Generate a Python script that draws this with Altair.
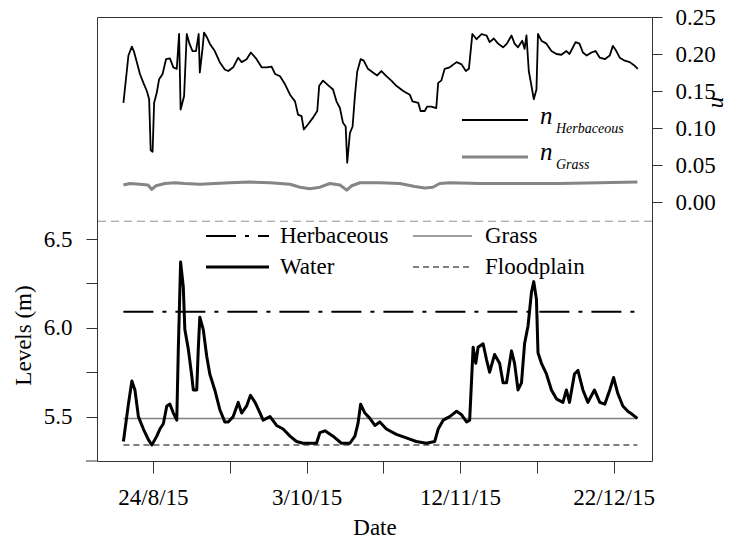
import altair as alt
import pandas as pd

# ---------------- data ----------------
base_date = "2015-08-24"  # day offsets below are relative to this date

water_day = [-7.7, -6.4, -5.5, -4.7, -3.8, -2.5, -1.2, -0.3, 1.0, 1.8, 2.7, 3.6, 4.4, 5.3, 6.2,
             6.6, 7.2, 7.9, 8.3, 9.2, 10.1, 10.5, 11.4, 11.8, 12.2, 13.1, 14.0, 14.8, 16.1, 17.4,
             18.7, 19.6, 20.9, 22.2, 23.1, 24.4, 25.4, 26.6, 27.9, 28.7, 30.5, 32.2, 33.9, 35.7,
             37.4, 39.1, 42.6, 43.5, 44.8, 46.9, 49.1, 51.3, 52.6, 53.4, 54.1, 55.2, 56.5, 57.8,
             59.1, 60.8, 63.4, 66.0, 68.6, 71.2, 73.4, 74.3, 75.6, 77.3, 79.1, 80.4, 81.7, 82.5,
             83.4, 84.1, 84.7, 86.0, 86.9, 87.7, 89.0, 90.3, 91.2, 92.1, 93.4, 94.2, 95.1, 96.0,
             96.8, 97.7, 98.6, 99.2, 99.9, 100.3, 101.2, 102.5, 103.8, 105.1, 106.8, 107.7, 108.5,
             109.8, 110.7, 112.0, 113.3, 115.0, 116.4, 117.7, 119.0, 120.0, 121.1, 122.4, 123.7,
             125.0, 126.2]
water_level = [5.36, 5.57, 5.70, 5.65, 5.50, 5.43, 5.37, 5.34, 5.39, 5.43, 5.46, 5.56, 5.57, 5.52, 5.48,
               5.88, 6.37, 6.23, 5.99, 5.88, 5.73, 5.65, 5.65, 5.88, 6.06, 5.99, 5.84, 5.74, 5.65, 5.54,
               5.47, 5.47, 5.50, 5.58, 5.52, 5.56, 5.62, 5.58, 5.52, 5.48, 5.50, 5.45, 5.43, 5.39,
               5.36, 5.35, 5.35, 5.41, 5.42, 5.39, 5.35, 5.35, 5.39, 5.46, 5.57, 5.52, 5.49, 5.45,
               5.47, 5.43, 5.40, 5.38, 5.36, 5.35, 5.36, 5.43, 5.48, 5.50, 5.53, 5.51, 5.47, 5.48,
               5.89, 5.80, 5.89, 5.91, 5.82, 5.75, 5.85, 5.80, 5.69, 5.69, 5.87, 5.80, 5.65, 5.69,
               5.91, 6.01, 6.20, 6.26, 6.16, 5.86, 5.80, 5.74, 5.65, 5.60, 5.58, 5.65, 5.58,
               5.74, 5.76, 5.65, 5.58, 5.65, 5.58, 5.57, 5.65, 5.72, 5.63, 5.56, 5.53,
               5.51, 5.49]

herb_day = [-7.7, -6.9, -6.4, -5.5, -5.0, -4.2, -3.4, -2.5, -1.6, -1.0, -0.6, -0.1, 0.3, 1.0, 1.6,
            2.5, 3.4, 4.4, 5.3, 6.2, 6.8, 7.2, 8.1, 8.8, 9.5, 10.3, 11.2, 11.9, 12.2, 12.9, 13.3,
            14.0, 14.8, 16.1, 17.4, 18.7, 19.6, 20.9, 22.2, 23.1, 24.4, 25.5, 27.0, 28.3, 29.6,
            30.9, 31.8, 33.1, 34.4, 35.7, 37.0, 37.8, 38.7, 39.3, 40.4, 41.7, 42.8, 43.3, 44.3,
            45.6, 46.9, 47.8, 48.7, 49.5, 50.2, 50.6, 51.3, 52.0, 52.6, 53.2, 54.1, 54.9, 56.0,
            57.3, 58.4, 59.5, 60.8, 62.1, 63.4, 65.2, 66.9, 67.6, 69.1, 69.7, 70.8, 71.4, 72.5,
            73.8, 74.3, 75.1, 76.0, 77.3, 79.1, 80.4, 81.5, 82.3, 83.2, 84.3, 85.6, 86.9, 87.7,
            88.8, 89.9, 91.2, 92.2, 93.4, 94.2, 95.1, 96.2, 96.8, 97.3, 97.9, 98.6, 99.2, 99.9,
            100.3, 101.2, 102.5, 103.8, 105.1, 106.4, 107.7, 108.5, 110.1, 111.1, 112.0, 113.0,
            114.2, 115.3, 116.4, 117.7, 119.0, 119.8, 120.7, 121.6, 122.9, 124.2, 125.5, 126.3]
herb_n = [0.134, 0.173, 0.198, 0.210, 0.204, 0.189, 0.173, 0.161, 0.150, 0.139, 0.070, 0.068, 0.134,
          0.148, 0.166, 0.173, 0.193, 0.194, 0.182, 0.180, 0.227, 0.125, 0.143, 0.227, 0.214, 0.204,
          0.204, 0.227, 0.175, 0.207, 0.229, 0.223, 0.214, 0.204, 0.189, 0.179, 0.177, 0.182, 0.195,
          0.189, 0.193, 0.202, 0.193, 0.182, 0.182, 0.183, 0.173, 0.170, 0.159, 0.145, 0.136, 0.118,
          0.116, 0.098, 0.105, 0.114, 0.123, 0.157, 0.164, 0.158, 0.152, 0.136, 0.127, 0.107, 0.102,
          0.053, 0.093, 0.102, 0.143, 0.176, 0.193, 0.191, 0.180, 0.175, 0.171, 0.177, 0.170, 0.164,
          0.157, 0.150, 0.145, 0.136, 0.134, 0.123, 0.123, 0.129, 0.129, 0.127, 0.161, 0.164, 0.180,
          0.182, 0.189, 0.186, 0.177, 0.180, 0.227, 0.220, 0.227, 0.225, 0.216, 0.221, 0.214, 0.209,
          0.214, 0.225, 0.214, 0.209, 0.218, 0.207, 0.225, 0.177, 0.157, 0.139, 0.152, 0.227, 0.218,
          0.214, 0.204, 0.200, 0.199, 0.204, 0.200, 0.216, 0.214, 0.202, 0.198, 0.202, 0.204, 0.195,
          0.193, 0.198, 0.211, 0.204, 0.195, 0.191, 0.189, 0.184, 0.180]

grass_day = [-7.7, -6.0, -3.4, -1.3, -0.3, 0.8, 3.1, 5.7, 8.3, 12.2, 16.1, 20.0, 25.2, 30.5, 35.7,
             38.3, 40.9, 43.5, 46.1, 48.7, 50.5, 51.8, 53.9, 59.1, 64.3, 68.2, 70.8, 72.9, 74.7,
             77.3, 85.1, 95.5, 105.9, 116.3, 126.2]
grass_n = [0.023, 0.025, 0.024, 0.023, 0.017, 0.022, 0.025, 0.026, 0.025, 0.024, 0.025, 0.026, 0.027,
           0.026, 0.024, 0.020, 0.018, 0.020, 0.025, 0.023, 0.016, 0.022, 0.026, 0.026, 0.025, 0.021,
           0.019, 0.020, 0.025, 0.026, 0.025, 0.025, 0.025, 0.026, 0.027]

ref_names = ["Herbaceous", "Grass", "Floodplain"]
ref_levels = [6.09, 5.49, 5.34]
separator_level = [6.6]

level_ticks = [5.5, 5.75, 6.0, 6.25, 6.5]
n_ticks = [0.0, 0.05, 0.10, 0.15, 0.20, 0.25]
level_domain = [5.25, 7.75]
n_domain = [-0.35, 0.25]

# ---------------- tables ----------------
t0 = pd.Timestamp(base_date)


def iso(days):
    return [(t0 + pd.Timedelta(days=d)).strftime("%Y-%m-%dT%H:%M:%SZ") for d in days]


water_df = pd.DataFrame({"date": iso(water_day), "level": water_level})
herb_df = pd.DataFrame({"date": iso(herb_day), "n": herb_n})
grass_df = pd.DataFrame({"date": iso(grass_day), "n": grass_n})
start, end = iso([water_day[0], water_day[-1]])
ref_df = pd.DataFrame({"name": ref_names, "level": ref_levels,
                       "date": [start] * 3, "date_end": [end] * 3})
sep_df = pd.DataFrame({"level": separator_level})
one = alt.Data(values=[{}])

FONT = "'Liberation Serif', 'Times New Roman', Times, 'DejaVu Serif', serif"
INK = "#333333"

x_scale = alt.Scale(type="utc", domain=[
    alt.DateTime(year=2015, month=8, date=9, hours=10, utc=True),
    alt.DateTime(year=2016, month=1, date=1, utc=True)])
x_tick_values = [alt.DateTime(year=2015, month=m, date=d, utc=True)
                 for m, d in [(8, 24), (9, 13), (10, 3), (10, 23), (11, 12), (12, 2), (12, 22)]]
x_axis = alt.Axis(values=x_tick_values, format="%-d/%-m/%y", title="Date",
                  labelExpr="round((datum.value - utc(2015,7,24))/86400000/20) % 2 == 0 ? datum.label : ''",
                  tickSize=12, labelPadding=13, titlePadding=7, domain=False, grid=False)
X = alt.X("date:T", scale=x_scale, axis=x_axis)

level_axis = alt.Axis(values=level_ticks, orient="left", title="Levels (m)",
                      labelExpr="round(datum.value*4) % 2 == 0 ? format(datum.value, '.1f') : ''",
                      tickSize=11, labelPadding=14, domain=False, grid=False,
                      titleX=-74, titleY=318, titleAngle=-90, titleBaseline="middle", titleAlign="center")
YL = alt.Y("level:Q", scale=alt.Scale(domain=level_domain, nice=False, zero=False), axis=level_axis)

n_axis = alt.Axis(values=n_ticks, orient="right", format=".2f", title="n",
                  tickSize=10, labelPadding=13, domain=False, grid=False,
                  titleX=66, titleY=85, titleAngle=90, titleBaseline="middle", titleAlign="center",
                  titleFontStyle="italic")
YN = alt.Y("n:Q", scale=alt.Scale(domain=n_domain, nice=False, zero=False), axis=n_axis)

# ---------------- lower panel (levels) ----------------
water = alt.Chart(water_df).mark_line(color="black", strokeWidth=3, strokeJoin="round").encode(x=X, y=YL)

ref_styles = {
    "Herbaceous": dict(color="black", strokeWidth=2, strokeDash=[30, 9, 4, 9]),
    "Grass": dict(color="#7f7f7f", strokeWidth=1.5),
    "Floodplain": dict(color="#808080", strokeWidth=2, strokeDash=[6, 4]),
}
ref_layers = [
    alt.Chart(ref_df).transform_filter(alt.datum.name == name)
    .mark_rule(**ref_styles[name]).encode(x=X, x2="date_end:T", y=YL)
    for name in ref_names
]
separator = alt.Chart(sep_df).mark_rule(color="#909090", strokeWidth=1, strokeDash=[8, 5]).encode(y=YL)
axis_ext = alt.Chart(one).mark_rule(color=INK, strokeWidth=1).encode(
    x=alt.value(-11), x2=alt.value(0), y=alt.value(444))


def key_line(x0, x1, y, **style):
    return alt.Chart(one).mark_rule(**style).encode(x=alt.value(x0), x2=alt.value(x1), y=alt.value(y))


def key_text(x, y, txt, size=23, italic=False, baseline="middle"):
    kw = dict(font=FONT, fontSize=size, align="left", baseline=baseline, color="black")
    if italic:
        kw["fontStyle"] = "italic"
    return alt.Chart(one).mark_text(**kw).encode(x=alt.value(x), y=alt.value(y), text=alt.value(txt))


lower_legend = [
    key_line(109, 172, 219, **ref_styles["Herbaceous"]),
    key_text(183, 219, "Herbaceous"),
    key_line(109, 172, 250, color="black", strokeWidth=3),
    key_text(183, 250, "Water"),
    key_line(316, 375, 219, **ref_styles["Grass"]),
    key_text(388, 219, "Grass"),
    key_line(316, 375, 250, **ref_styles["Floodplain"]),
    key_text(388, 250, "Floodplain"),
]

group_levels = alt.layer(separator, *ref_layers, water, axis_ext, *lower_legend)

# ---------------- upper panel (Manning's n) ----------------
herb = alt.Chart(herb_df).mark_line(color="black", strokeWidth=1.8, strokeJoin="round").encode(x=X, y=YN)
grass = alt.Chart(grass_df).mark_line(color="#858585", strokeWidth=3, strokeJoin="round").encode(x=X, y=YN)

upper_legend = [
    key_line(365, 431, 103, color="black", strokeWidth=2),
    key_text(443, 107, "n", size=25, italic=True, baseline="alphabetic"),
    key_text(459, 116, "Herbaceous", size=14, italic=True, baseline="alphabetic"),
    key_line(365, 431, 140, color="#858585", strokeWidth=3),
    key_text(443, 143, "n", size=25, italic=True, baseline="alphabetic"),
    key_text(459, 152, "Grass", size=14, italic=True, baseline="alphabetic"),
]

group_n = alt.layer(grass, herb, *upper_legend)

chart = (
    alt.layer(group_levels, group_n)
    .resolve_scale(y="independent")
    .properties(width=555, height=444, autosize="none",
                padding={"left": 89, "top": 9, "right": 78, "bottom": 77})
    .configure_view(stroke=INK, strokeWidth=1)
    .configure_axis(labelFont=FONT, labelFontSize=23, labelColor="black",
                    titleFont=FONT, titleFontSize=23, titleFontWeight="normal", titleColor="black",
                    tickColor=INK, tickWidth=1, grid=False)
)

chart.save("out.html", embed_options={"renderer": "svg", "actions": False})
